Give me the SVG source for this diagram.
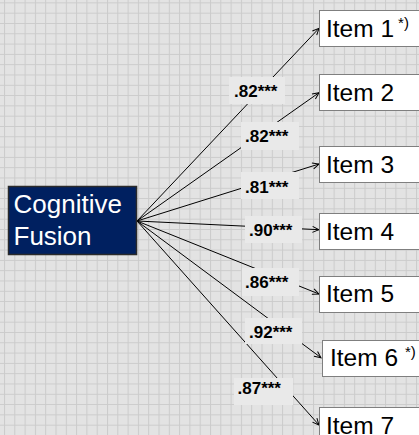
<svg xmlns="http://www.w3.org/2000/svg" width="419" height="435" viewBox="0 0 419 435">
<style>
.item rect{fill:#fff;stroke:#7f7f7f;stroke-width:1}
.item text{font-family:"Liberation Sans",Arial,sans-serif;font-size:24.5px;fill:#000}
.sup{font-size:15px}
.lbl rect{fill:#e9e9e9}
.lbl text{font-family:"Liberation Sans",Arial,sans-serif;font-size:17px;font-weight:bold;fill:#000}
.conn line{stroke:#000;stroke-width:1;marker-end:url(#arr)}
.main text{font-family:"Liberation Sans",Arial,sans-serif;font-size:26px;fill:#fff}
</style>
<defs>
<pattern id="grid" patternUnits="userSpaceOnUse" x="4" y="2.4" width="10.3" height="10.3">
<rect width="10.3" height="10.3" fill="#e3e3e3"/>
<path d="M0 0.5H10.3M0.5 0V10.3" stroke="#cbcbcb" stroke-width="1"/>
</pattern>
<marker id="arr" markerWidth="8" markerHeight="8" refX="7" refY="4" orient="auto" markerUnits="userSpaceOnUse">
<path d="M0.5 1L7 4L0.5 7" fill="none" stroke="#000" stroke-width="1"/>
</marker>
</defs>
<rect width="419" height="435" fill="url(#grid)"/>
<g id="connectors" class="conn">
<line x1="137" y1="221" x2="319" y2="28.3"/>
<line x1="137" y1="221" x2="319" y2="92.7"/>
<line x1="137" y1="221" x2="319" y2="164"/>
<line x1="137" y1="221" x2="319" y2="229.7"/>
<line x1="137" y1="221" x2="319" y2="294"/>
<line x1="137" y1="221" x2="321" y2="357.7"/>
<line x1="137" y1="221" x2="319" y2="425"/>
</g>
<g id="labels" class="lbl">
<g id="label1"><rect x="229" y="77" width="56" height="27"/><text x="234" y="97">.82***</text></g>
<g id="label2"><rect x="241" y="122" width="58" height="28"/><text x="245" y="142">.82***</text></g>
<g id="label3"><rect x="241" y="172" width="58" height="27"/><text x="245" y="192.7">.81***</text></g>
<g id="label4"><rect x="245" y="216" width="57" height="27"/><text x="249" y="236">.90***</text></g>
<g id="label5"><rect x="242" y="268" width="57" height="28"/><text x="245" y="288">.86***</text></g>
<g id="label6"><rect x="245" y="318" width="57" height="26"/><text x="249" y="338">.92***</text></g>
<g id="label7"><rect x="234" y="378" width="59" height="27"/><text x="237.5" y="394">.87***</text></g>
</g>
<g id="cognitive-fusion" class="main">
<rect x="8.5" y="186.5" width="128" height="68" fill="#002060" stroke="#2a2a2a" stroke-width="1.5"/>
<text x="13.5" y="213.3">Cognitive</text>
<text x="13.5" y="245.3">Fusion</text>
</g>
<g id="item1" class="item"><rect x="319.5" y="10.5" width="110" height="36"/><text x="326" y="36.7">Item 1<tspan class="sup" dx="4" dy="-9">*)</tspan></text></g>
<g id="item2" class="item"><rect x="319.5" y="74.5" width="110" height="36"/><text x="326" y="100.7">Item 2</text></g>
<g id="item3" class="item"><rect x="319.5" y="146.5" width="110" height="36"/><text x="326" y="172.7">Item 3</text></g>
<g id="item4" class="item"><rect x="319.5" y="213.5" width="110" height="36"/><text x="326" y="240">Item 4</text></g>
<g id="item5" class="item"><rect x="319.5" y="276.5" width="110" height="36"/><text x="326" y="302.3">Item 5</text></g>
<g id="item6" class="item"><rect x="322.5" y="340.5" width="110" height="36"/><text x="330" y="366">Item 6 <tspan class="sup" dy="-9">*)</tspan></text></g>
<g id="item7" class="item"><rect x="319.5" y="407.5" width="110" height="36"/><text x="326" y="433.7">Item 7</text></g>
</svg>
